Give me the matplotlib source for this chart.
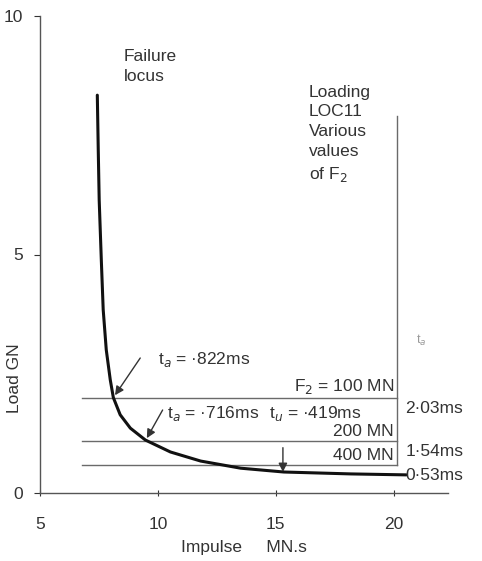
import numpy as np
import matplotlib.pyplot as plt

plt.rcParams['font.family'] = ['Liberation Sans', 'DejaVu Sans']

# failure locus (impulse MN.s, load GN)
impulse = [7.43, 7.47, 7.51, 7.60, 7.68, 7.81, 7.98, 8.11, 8.40, 8.83,
           9.47, 10.53, 11.81, 13.51, 15.34, 18.19, 20.53]
load = [8.34, 7.19, 6.14, 4.88, 3.84, 3.00, 2.37, 2.00, 1.64, 1.36,
        1.11, 0.86, 0.67, 0.52, 0.44, 0.40, 0.38]

# loading levels for the various values of F2
f2_labels = ['F$_2$ = 100 MN', '200 MN', '400 MN']
f2_loads = [1.99, 1.09, 0.59]
tu_labels = ['2·03ms', '1·54ms', '0·53ms']
line_start, line_end = 6.8, 20.15

x_ticks = [5, 10, 15, 20]
y_ticks = [0, 5, 10]

fig = plt.figure(figsize=(4.82, 5.61), dpi=100)
ax = fig.add_axes([40 / 482, 1 - 493 / 561, 408 / 482, 477 / 561])

gray = '#6a6a6a'
txt = '#333333'
for yv in f2_loads:
    ax.plot([line_start, line_end], [yv, yv], color=gray, lw=1.0)
ax.plot([line_end, line_end], [f2_loads[-1], 7.9], color=gray, lw=1.0)

ax.plot(impulse, load, color='#111111', lw=2.2, solid_capstyle='round')

fs = 12.5
for lab, yv in zip(f2_labels, f2_loads):
    ax.text(line_end - 0.15, yv + 0.04, lab, ha='right', va='bottom', fontsize=fs, color=txt)
for lab, yv in zip(tu_labels, f2_loads):
    ax.text(line_end + 0.35, yv - 0.22, lab, ha='left', va='center', fontsize=fs, color=txt)

arrow = dict(arrowstyle='-|>', color=txt, lw=1.0, mutation_scale=13, shrinkA=0, shrinkB=0)
ax.text(10.0, 2.8, 't$_a$ = ·822ms', fontsize=fs, va='center', color=txt)
ax.annotate('', xy=(8.18, 2.05), xytext=(9.25, 2.83), arrowprops=arrow)
ax.text(10.4, 1.66, 't$_a$ = ·716ms', fontsize=fs, va='center', color=txt)
ax.annotate('', xy=(9.53, 1.15), xytext=(10.2, 1.74), arrowprops=arrow)
ax.text(14.7, 1.66, 't$_u$ = ·419ms', fontsize=fs, va='center', color=txt)
ax.annotate('', xy=(15.3, 0.44), xytext=(15.3, 0.95), arrowprops=arrow)
ax.text(20.95, 3.2, 't$_a$', fontsize=9, color='#999999', va='center')

ax.text(8.55, 9.3, 'Failure\nlocus', fontsize=fs, va='top', linespacing=1.4, color=txt)
ax.text(16.4, 8.56, 'Loading\nLOC11\nVarious\nvalues\nof F$_2$', fontsize=fs, va='top',
        linespacing=1.4, color=txt)

ax.set_xlim(5, 22.3)
ax.set_ylim(0, 10)
ax.set_xticks(x_ticks)
ax.set_yticks(y_ticks)
ax.tick_params(labelsize=fs, colors=txt, length=4, width=0.8)
ax.tick_params(axis='x', direction='inout', pad=15)
ax.tick_params(axis='y', pad=8)
for s in ['top', 'right']:
    ax.spines[s].set_visible(False)
for s in ['left', 'bottom']:
    ax.spines[s].set_color('#555555')
    ax.spines[s].set_linewidth(1.0)

ax.set_xlabel('Impulse     MN.s', fontsize=fs, color=txt, labelpad=6)
ax.set_ylabel('Load GN', fontsize=fs, color=txt)
ax.yaxis.set_label_coords(-0.045, 0.24)

fig.savefig('out.png', dpi=100)
